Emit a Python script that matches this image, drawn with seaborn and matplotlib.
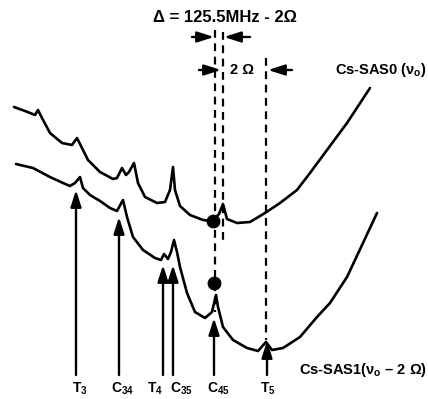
import matplotlib
matplotlib.use("Agg")
import matplotlib.pyplot as plt
import seaborn as sns
import pandas as pd

# ---- data (in picture units: x = frequency axis, y = signal, downward) ----
sas0_x = [14, 25, 35, 38, 42, 50, 62, 72, 77, 82, 88, 100, 113, 117, 122, 126, 129, 134, 138, 145,
          157, 165, 170, 173, 175, 180, 190, 203, 213, 219, 223, 227, 237, 250, 265, 280, 297, 310,
          327, 347, 370]
sas0_y = [107, 111, 115, 110, 118, 133, 143, 145, 138, 148, 160, 172, 179, 178, 168, 175, 172, 163, 183, 197,
          203, 202, 190, 167, 190, 206, 215, 220, 221, 214, 204, 219, 223, 222, 213, 203, 190, 173,
          150, 123, 88]

sas1_x = [16, 33, 50, 63, 70, 75, 80, 83, 90, 100, 110, 117, 123, 127, 133, 143, 155, 161, 164, 168,
          171, 174, 177, 180, 187, 195, 205, 212, 216, 218, 223, 233, 247, 258, 266, 272, 283, 300,
          317, 330, 347, 363, 377]
sas1_y = [164, 168, 177, 183, 186, 183, 177, 188, 195, 201, 208, 211, 200, 217, 237, 250, 258, 260, 254, 259,
          252, 240, 252, 267, 293, 312, 318, 312, 295, 307, 327, 340, 348, 351, 342, 350, 348, 337,
          317, 303, 277, 243, 213]

dot_x = [213, 214]
dot_y = [221, 283]

line_labels = [r"T$_{3}$", r"C$_{34}$", r"T$_{4}$", r"C$_{35}$", r"C$_{45}$", r"T$_{5}$"]
line_x = [76, 119, 163, 173, 214, 267]
line_tip = [190, 217, 265, 265, 318, 341]
label_x = [80, 122, 155, 181, 218, 268]

dash_x = [215, 223, 266]
dash_top = [30, 32, 58]
dash_bottom = [312, 245, 340]

title = "Δ = 125.5MHz - 2Ω"
sas0_label = r"Cs-SAS0 (ν$_{o}$)"
sas1_label = r"Cs-SAS1(ν$_{o}$ – 2 Ω)"
omega_label = "2 Ω"

# ---- figure ----
sns.set_style("white")
plt.rcParams['font.family'] = ['Liberation Sans', 'DejaVu Sans']
plt.rcParams['text.color'] = 'black'
plt.rcParams['mathtext.fontset'] = 'custom'
plt.rcParams['mathtext.rm'] = 'Liberation Sans:bold'
plt.rcParams['mathtext.it'] = 'Liberation Sans:bold'
plt.rcParams['mathtext.bf'] = 'Liberation Sans:bold'
plt.rcParams['mathtext.default'] = 'regular'

fig = plt.figure(figsize=(4.28, 3.99), dpi=100)
ax = fig.add_axes([0, 0, 1, 1])

df0 = pd.DataFrame({"x": sas0_x, "y": sas0_y})
df1 = pd.DataFrame({"x": sas1_x, "y": sas1_y})
sns.lineplot(data=df0, x="x", y="y", sort=False, estimator=None, color="black", lw=1.9, ax=ax)
sns.lineplot(data=df1, x="x", y="y", sort=False, estimator=None, color="black", lw=1.9, ax=ax)
ax.set_xlim(0, 428)
ax.set_ylim(399, 0)
ax.axis("off")

# dashed guide lines
for x, t, b in zip(dash_x, dash_top, dash_bottom):
    ax.plot([x, x], [t, b], color="black", lw=1.6, ls=(0, (3.5, 2.5)), zorder=2)

# dots
sns.scatterplot(x=dot_x, y=dot_y, color="black", s=85, edgecolor="black", zorder=5, ax=ax, legend=False)

# vertical arrows with labels
for x, tip in zip(line_x, line_tip):
    ax.annotate("", xy=(x, tip), xytext=(x, 375),
                arrowprops=dict(arrowstyle="-|>,head_length=1.0,head_width=0.32", color="black", lw=1.7,
                                shrinkA=0, shrinkB=0))
for x, lab in zip(label_x, line_labels):
    ax.text(x, 389, lab, ha="center", va="center", fontsize=10, fontweight="bold")

# top horizontal arrows
def harrow(x0, x1, y):
    ax.annotate("", xy=(x1, y), xytext=(x0, y),
                arrowprops=dict(arrowstyle="-|>,head_length=1.0,head_width=0.32", color="black", lw=1.7,
                                shrinkA=0, shrinkB=0))

harrow(192, 214, 37)
harrow(250, 224, 37)
harrow(199, 221, 70)
harrow(292, 268, 70)

ax.text(225, 17, title, ha="center", va="center", fontsize=12, fontweight="bold")
ax.text(242, 70, omega_label, ha="center", va="center", fontsize=10.5, fontweight="bold")
ax.text(427, 70, sas0_label, ha="right", va="center", fontsize=10.5, fontweight="bold")
ax.text(427, 370, sas1_label, ha="right", va="center", fontsize=10.5, fontweight="bold")

fig.savefig("out.png", dpi=100)
